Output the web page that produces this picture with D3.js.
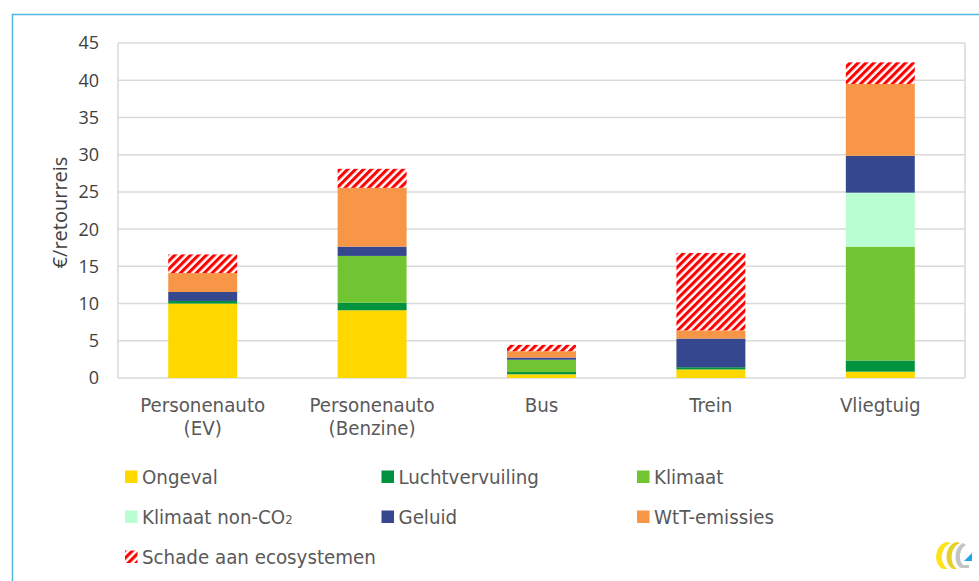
<!DOCTYPE html>
<html>
<head>
<meta charset="utf-8">
<script src="https://cdn.jsdelivr.net/npm/d3@7"></script>
<style>
  html, body { margin: 0; padding: 0; background: #fff; }
  svg { display: block; }
</style>
</head>
<body>
<svg id="chart" width="979" height="581"></svg>
<script>
// ---- data ----
const categories = ["Personenauto (EV)", "Personenauto (Benzine)", "Bus", "Trein", "Vliegtuig"];
const categoryLines = [["Personenauto", "(EV)"], ["Personenauto", "(Benzine)"], ["Bus"], ["Trein"], ["Vliegtuig"]];
const seriesNames = ["Ongeval", "Luchtvervuiling", "Klimaat", "Klimaat non-CO2", "Geluid", "WtT-emissies", "Schade aan ecosystemen"];
const ongeval         = [10.0, 9.1, 0.5, 1.15, 0.85];
const luchtvervuiling = [0.35, 1.0, 0.3, 0.3, 1.5];
const klimaat         = [0, 6.3, 1.65, 0, 15.3];
const klimaatNonCO2   = [0, 0, 0, 0, 7.25];
const geluid          = [1.2, 1.25, 0.3, 3.85, 4.95];
const wtt             = [2.55, 7.9, 0.85, 1.1, 9.65];
const ecosystemen     = [2.5, 2.55, 0.85, 10.4, 2.9];
const yTicks = [0, 5, 10, 15, 20, 25, 30, 35, 40, 45];
const yTitle = "€/retourreis";

const seriesValues = [ongeval, luchtvervuiling, klimaat, klimaatNonCO2, geluid, wtt, ecosystemen];
const colors = ["#ffd800", "#00923f", "#72c532", "#b9fdd2", "#35478f", "#f79646", "url(#hatch)"];

const rows = categories.map((c, i) => {
  const r = { cat: c };
  seriesNames.forEach((s, j) => r[s] = seriesValues[j][i]);
  return r;
});

const svg = d3.select("#chart");
const defs = svg.append("defs");
const pat = defs.append("pattern")
  .attr("id", "hatch").attr("patternUnits", "userSpaceOnUse")
  .attr("width", 5.6).attr("height", 5.6)
  .attr("patternTransform", "rotate(45)");
pat.append("rect").attr("width", 5.6).attr("height", 5.6).attr("fill", "#fff");
pat.append("rect").attr("width", 3.1).attr("height", 5.6).attr("fill", "#ff0000");

// outer frame
svg.append("rect").attr("x", 12.5).attr("y", 14.5).attr("width", 1100).attr("height", 1100)
  .attr("fill", "none").attr("stroke", "#4fb9e0").attr("stroke-width", 1.5);

const pLeft = 118, pRight = 965, pTop = 43, pBottom = 378;
const x = d3.scaleBand().domain(categories).range([pLeft, pRight]).paddingInner(0.593).paddingOuter(0.2965);
const y = d3.scaleLinear().domain([0, 45]).range([pBottom, pTop]);

// gridlines
const grid = svg.append("g").attr("stroke", "#d9d9d9").attr("stroke-width", 1.5);
grid.selectAll("line").data(yTicks).join("line")
  .attr("x1", pLeft).attr("x2", pRight)
  .attr("y1", d => y(d)).attr("y2", d => y(d));
grid.append("line").attr("x1", pLeft).attr("x2", pLeft).attr("y1", pTop).attr("y2", pBottom);
grid.append("line").attr("x1", pRight).attr("x2", pRight).attr("y1", pTop).attr("y2", pBottom);

// y tick labels
svg.append("g").selectAll("text").data(yTicks).join("text")
  .attr("x", 99).attr("y", d => y(d)).attr("dy", "0.36em")
  .attr("text-anchor", "end")
  .attr("font-family", "'Open Sans', sans-serif").attr("font-size", 18)
  .attr("fill", "#404040")
  .text(d => d);

// y title
svg.append("text")
  .attr("transform", `translate(67,${(pTop + pBottom) / 2 + 2}) rotate(-90)`)
  .attr("text-anchor", "middle")
  .attr("font-family", "'Open Sans', sans-serif").attr("font-size", 20)
  .attr("fill", "#404040")
  .text(yTitle);

// bars
const stack = d3.stack().keys(seriesNames)(rows);
svg.append("g").selectAll("g").data(stack).join("g")
  .attr("fill", (d, i) => colors[i])
  .selectAll("rect").data(d => d).join("rect")
  .attr("x", d => x(d.data.cat))
  .attr("width", x.bandwidth())
  .attr("y", d => y(d[1]))
  .attr("height", d => Math.max(0, y(d[0]) - y(d[1])));

// category labels
const catFont = "'DejaVu Sans Condensed', 'DejaVu Sans', sans-serif";
const catG = svg.append("g");
categories.forEach((c, i) => {
  const t = catG.append("text")
    .attr("text-anchor", "middle")
    .attr("font-family", catFont).attr("font-stretch", "condensed").attr("font-size", 20.3)
    .attr("fill", "#595959");
  categoryLines[i].forEach((ln, k) => {
    t.append("tspan").attr("x", x(c) + x.bandwidth() / 2).attr("y", 412 + k * 23).text(ln);
  });
});

// legend
const legendPos = [
  [125, 470.5], [381.5, 470.5], [637, 470.5],
  [125, 510.5], [381.5, 510.5], [637, 510.5],
  [125, 550.5]
];
const lg = svg.append("g");
seriesNames.forEach((s, i) => {
  const [lx, ly] = legendPos[i];
  lg.append("rect").attr("x", lx).attr("y", ly).attr("width", 12.5).attr("height", 12.5).attr("fill", colors[i]);
  const t = lg.append("text").attr("x", lx + 17).attr("y", ly + 13.5)
    .attr("font-family", catFont).attr("font-stretch", "condensed").attr("font-size", 20.3)
    .attr("fill", "#595959");
  if (s === "Klimaat non-CO2") {
    t.append("tspan").text("Klimaat non-CO");
    t.append("tspan").attr("font-size", 13).text("2");
  } else {
    t.text(s);
  }
});

// logo (approximation)
const logo = svg.append("g").attr("transform", "translate(934,540)");
logo.append("path").attr("d", "M13,2 C1,4 -2,24 9,29 L14,29 C5,23 6,7 17,3 Z").attr("fill", "#ffe21a");
logo.append("path").attr("d", "M23,2 C11,4 9,24 19,29 L23,29 C15,23 16,7 26,3 Z").attr("fill", "#e6d02a");
logo.append("path").attr("d", "M29,3 C20,7 19,24 27,28 L35,28 L35,25 L29,25 C24,20 25,9 32,5 Z").attr("fill", "#c4c4c4");
logo.append("path").attr("d", "M30,21 L38,13 L38,21 Z").attr("fill", "#1ea7e8");
</script>
</body>
</html>
